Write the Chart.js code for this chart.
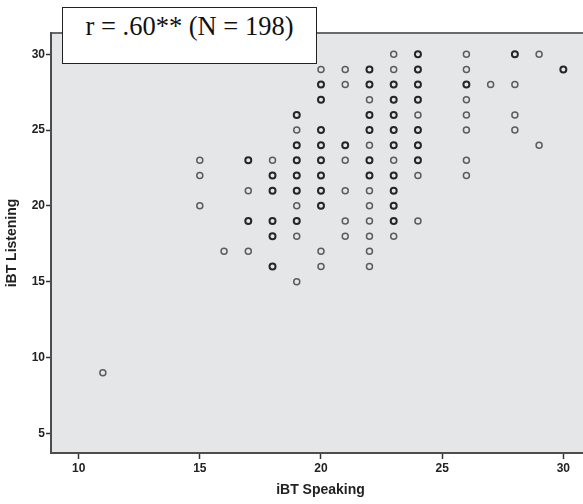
<!DOCTYPE html>
<html>
<head>
<meta charset="utf-8">
<script src="https://cdn.jsdelivr.net/npm/chart.js@4.4.0/dist/chart.umd.min.js"></script>
<style>
  html, body { margin: 0; padding: 0; background: #fff; overflow: hidden; }
  #wrap { position: relative; width: 596px; height: 504px; }
  #caixa {
    position: absolute; left: 62px; top: 7px; width: 253px; height: 52px;
    background: #fff; border: 1.5px solid #222;
    font-family: "Liberation Serif", "Times New Roman", serif; font-size: 26.5px;
    line-height: 30px; padding-top: 3px; text-align: center; color: #111;
    white-space: nowrap;
  }
</style>
</head>
<body>
<div id="wrap">
  <canvas id="grafico" width="596" height="504"></canvas>
  <div id="caixa">r = .60** (N = 198)</div>
</div>
<script>
/* ================= DADOS ================= */
// nota de speaking (eixo x)
const speaking = [11, 15, 16, 17, 18, 19, 20, 21, 22, 23, 24, 26, 27, 28, 29, 30];

// notas de listening por coluna: pontos simples
const listeningSimples = [
  [9], [23, 22, 20], [17], [21, 17], [23], [25, 20, 18, 15],
  [29, 17, 16], [29, 28, 23, 21, 19, 18], [27, 24, 21, 20, 19, 18, 17, 16],
  [30, 29, 23, 18], [26, 22, 19], [30, 29, 27, 26, 25, 23, 22],
  [28], [28, 26, 25], [30, 24], []
];

// pontos com casos repetidos (marcador mais escuro)
const listeningRepetidos = [
  [], [], [], [23, 19], [22, 21, 19, 18, 16], [26, 24, 23, 22, 21, 19],
  [28, 27, 25, 24, 23, 22, 21, 20], [24], [29, 28, 26, 25, 23, 22],
  [28, 27, 26, 25, 24, 22, 21, 20, 19], [30, 29, 28, 27, 25, 24, 23],
  [28], [], [30], [], [29]
];

const ticksX = [10, 15, 20, 25, 30];
const ticksY = [5, 10, 15, 20, 25, 30];

/* ================= PONTOS ================= */
function montarPontos(listas) {
  const pontos = [];
  speaking.forEach((s, i) => {
    listas[i].forEach(l => pontos.push({ x: s, y: l }));
  });
  return pontos;
}

/* ================= FUNDO DO GRÁFICO ================= */
const fundo = {
  id: "fundo",
  beforeDraw(chart) {
    const { ctx, chartArea: a } = chart;
    ctx.save();
    ctx.fillStyle = "#e5e6e8";
    ctx.fillRect(a.left, a.top, a.right - a.left, a.bottom - a.top);
    ctx.strokeStyle = "#6a6a6a";
    ctx.lineWidth = 2;
    ctx.beginPath();
    ctx.moveTo(a.left, a.top);
    ctx.lineTo(a.right, a.top);
    ctx.lineTo(a.right, a.bottom);
    ctx.stroke();
    ctx.restore();
  }
};

const fonteTick = { family: "'Liberation Sans', Arial, sans-serif", size: 12, weight: "bold" };
const fonteTitulo = { family: "'Liberation Sans', Arial, sans-serif", size: 14, weight: "bold" };

/* ================= GRÁFICO ================= */
new Chart(document.getElementById("grafico"), {
  type: "scatter",
  data: {
    datasets: [
      {
        data: montarPontos(listeningSimples),
        borderColor: "#5c5c5c",
        backgroundColor: "rgba(0,0,0,0)",
        borderWidth: 1.5,
        pointRadius: 3
      },
      {
        data: montarPontos(listeningRepetidos),
        borderColor: "#262626",
        backgroundColor: "rgba(0,0,0,0)",
        borderWidth: 2,
        pointRadius: 3
      }
    ]
  },
  options: {
    responsive: false,
    animation: false,
    layout: { padding: { top: 33, right: 1, left: 0, bottom: 0 } },
    plugins: { legend: { display: false }, tooltip: { enabled: false } },
    scales: {
      x: {
        type: "linear",
        min: 8.86,
        max: 31.1,
        afterFit: s => { s.height = 51; },
        afterBuildTicks: s => { s.ticks = ticksX.map(v => ({ value: v })); },
        border: { color: "#4d4d4d", width: 2 },
        grid: { drawOnChartArea: false, color: "#333", tickLength: 6, tickWidth: 1.5 },
        ticks: { color: "#222", font: fonteTick, padding: 2, maxRotation: 0 },
        title: { display: true, text: "iBT Speaking", color: "#222", font: fonteTitulo, padding: { top: 0, bottom: 5 } }
      },
      y: {
        type: "linear",
        min: 3.7,
        max: 31.4,
        afterFit: s => { s.width = 51; },
        afterBuildTicks: s => { s.ticks = ticksY.map(v => ({ value: v })); },
        border: { color: "#4d4d4d", width: 2 },
        grid: { drawOnChartArea: false, color: "#333", tickLength: 5, tickWidth: 1.5 },
        ticks: { color: "#222", font: fonteTick, padding: 1 },
        title: { display: true, text: "iBT Listening", color: "#222", font: fonteTitulo, padding: { top: 4, bottom: 0 } }
      }
    }
  },
  plugins: [fundo]
});
</script>
</body>
</html>
